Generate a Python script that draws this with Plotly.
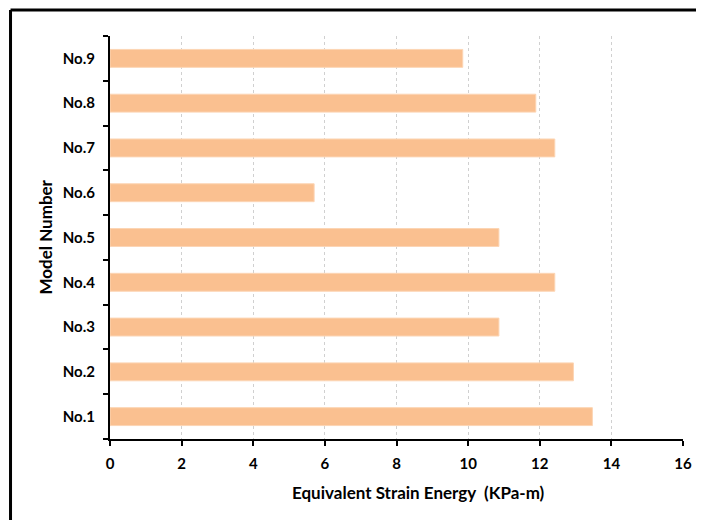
import plotly.graph_objects as go

models = ["No.1", "No.2", "No.3", "No.4", "No.5", "No.6", "No.7", "No.8", "No.9"]
energy = [13.47, 12.94, 10.86, 12.42, 10.86, 5.70, 12.42, 11.89, 9.85]
x_ticks = [0, 2, 4, 6, 8, 10, 12, 14, 16]
x_title = "Equivalent Strain Energy  (KPa-m)"
y_title = "Model Number"

FONT = "Lato"

fig = go.Figure(
    go.Bar(
        x=energy,
        y=models,
        orientation="h",
        marker=dict(color="#FAC090", line=dict(color="#FCD5B4", width=1)),
        width=0.4,
    )
)

fig.update_layout(
    width=704,
    height=520,
    margin=dict(l=102, r=29, t=28, b=89),
    paper_bgcolor="white",
    plot_bgcolor="white",
    showlegend=False,
    font=dict(family=FONT, color="black"),
    xaxis=dict(
        range=[0, 16],
        tickvals=x_ticks,
        showgrid=True,
        gridcolor="#D0D0D0",
        griddash="dot",
        gridwidth=1,
        showline=True,
        linecolor="black",
        linewidth=2,
        ticks="outside",
        ticklen=5,
        tickwidth=2,
        tickcolor="black",
        tickfont=dict(family=FONT, size=15, color="black", weight="bold"),
        ticklabelstandoff=5,
        zeroline=False,
        automargin=False,
        fixedrange=True,
    ),
    yaxis=dict(
        categoryorder="array",
        categoryarray=models,
        showgrid=False,
        showline=True,
        linecolor="black",
        linewidth=2,
        ticks="outside",
        tickson="boundaries",
        ticklen=5,
        tickwidth=2,
        tickcolor="black",
        tickfont=dict(family=FONT, size=15, color="black", weight="bold"),
        ticklabelstandoff=10,
        automargin=False,
        fixedrange=True,
    ),
)

fig.add_annotation(text=x_title, xref="paper", yref="paper", x=0.539, y=-0.1327,
                   showarrow=False, xanchor="center", yanchor="middle",
                   font=dict(family=FONT, size=17, color="black", weight="bold"))
fig.add_annotation(text=y_title, xref="paper", yref="paper", x=-0.1134, y=0.5,
                   showarrow=False, xanchor="center", yanchor="middle", textangle=-90,
                   font=dict(family=FONT, size=17, color="black", weight="bold"))

# outer chart frame (left and top edges visible)
fig.add_shape(type="line", xref="paper", yref="paper",
              x0=-0.1736, x1=1.08, y0=1.0646, y1=1.0646,
              line=dict(color="black", width=3))
fig.add_shape(type="line", xref="paper", yref="paper",
              x0=-0.1736, x1=-0.1736, y0=1.0646, y1=-0.25,
              line=dict(color="black", width=3))

fig.write_html("out.html")
